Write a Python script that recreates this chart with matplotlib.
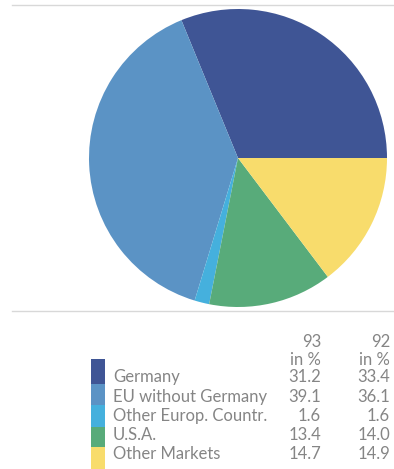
import matplotlib.pyplot as plt
from matplotlib.patches import Rectangle

# sales by region, share in percent
regions = ['Germany', 'EU without Germany', 'Other Europ. Countr.', 'U.S.A.', 'Other Markets']
share_93 = [31.2, 39.1, 1.6, 13.4, 14.7]
share_92 = [33.4, 36.1, 1.6, 14.0, 14.9]
years = ['93', '92']
colors = ['#3f5595', '#5b93c5', '#45b0dd', '#58ab7a', '#f8dc6c']

W, H = 394, 469
fig = plt.figure(figsize=(W / 100, H / 100), dpi=100)
fig.patch.set_facecolor('white')

# pie, center ~ (238, 158) px, radius ~149 px
cx, cy, r = 238, 158, 149
ax = fig.add_axes([(cx - r) / W, (H - cy - r) / H, 2 * r / W, 2 * r / H])
ax.pie(share_93, colors=colors, startangle=0, counterclock=True,
       wedgeprops=dict(linewidth=0))
ax.set_xlim(-1, 1)
ax.set_ylim(-1, 1)
ax.set_aspect('equal')

# overlay in pixel coords for rules, table and swatches
ov = fig.add_axes([0, 0, 1, 1], zorder=5)
ov.set_xlim(0, W)
ov.set_ylim(H, 0)
ov.axis('off')
ov.patch.set_alpha(0)

rule = '#d8d8d8'
ov.plot([12, W], [5, 5], color=rule, lw=1)
ov.plot([12, W], [311, 311], color=rule, lw=1)

tc = '#858585'
font = dict(family='Lato', fontweight='normal', fontsize=12, color=tc)

col_x = [321, 390]
for x, yr in zip(col_x, years):
    ov.text(x, 342, yr, ha='right', va='center', **font)
    ov.text(x, 360, 'in %', ha='right', va='center', **font)

row_y = [377, 397, 416, 435, 454]
for y, name, a, b in zip(row_y, regions, share_93, share_92):
    ov.text(113, y, name, ha='left', va='center', **font)
    ov.text(col_x[0], y, f'{a:.1f}', ha='right', va='center', **font)
    ov.text(col_x[1], y, f'{b:.1f}', ha='right', va='center', **font)

# stacked colour key at the left of the table
edges = [359, 384, 405, 427, 447, 469]
for i, c in enumerate(colors):
    ov.add_patch(Rectangle((91, edges[i]), 14, edges[i + 1] - edges[i],
                           facecolor=c, edgecolor='none'))

fig.savefig('out.png', dpi=100)
